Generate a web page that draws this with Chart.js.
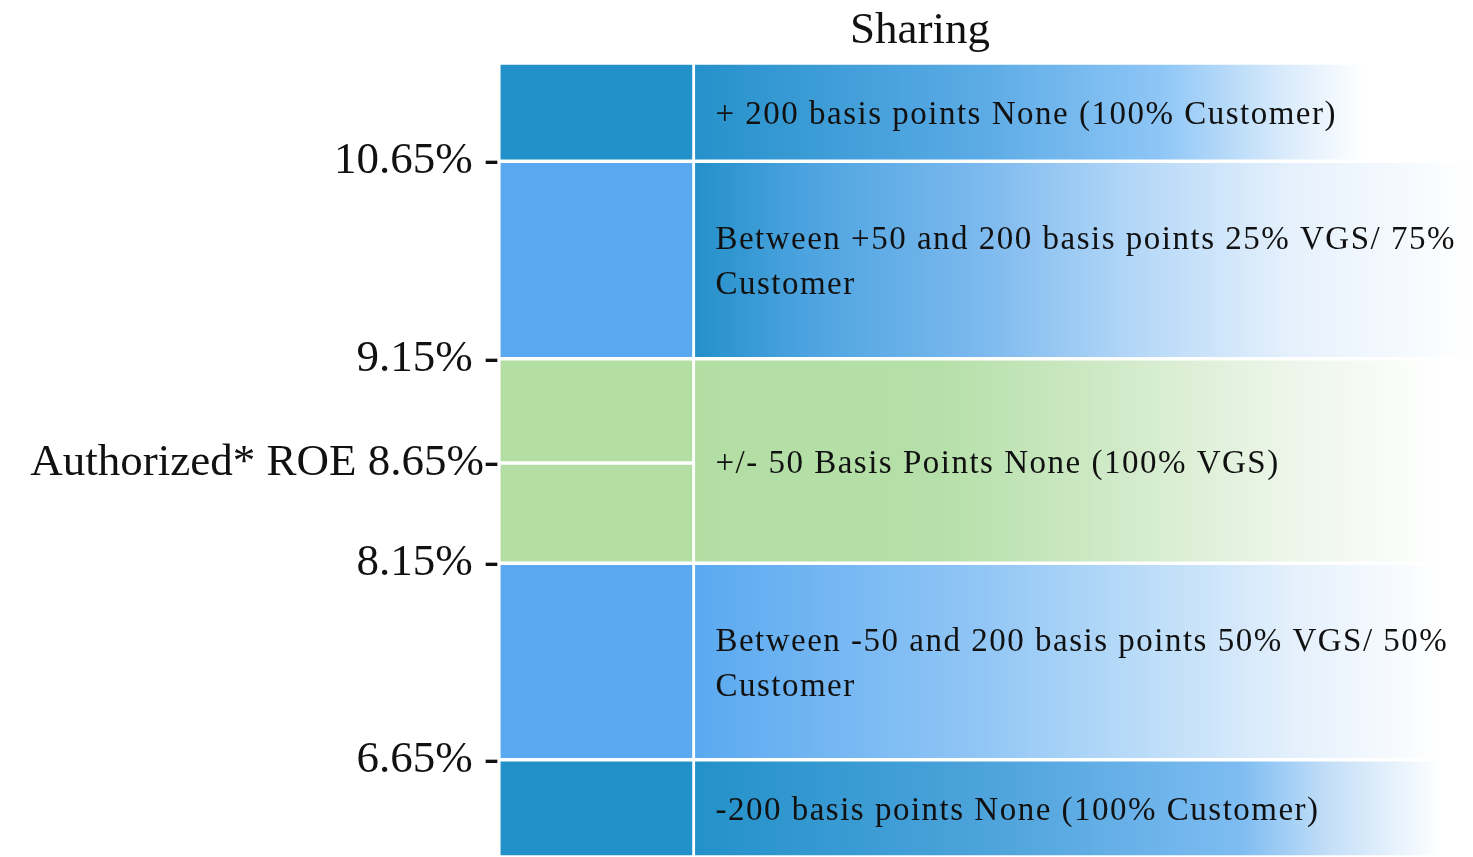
<!DOCTYPE html>
<html>
<head>
<meta charset="utf-8">
<script src="https://cdn.jsdelivr.net/npm/chart.js@4/dist/chart.umd.min.js"></script>
<style>
  html, body { margin: 0; padding: 0; background: #fff; }
  #wrap { width: 1473px; height: 857px; position: relative; }
</style>
</head>
<body>
<div id="wrap"><canvas id="myChart"></canvas></div>
<script>
// band edges on the drawing's step scale (not linear in ROE)
var tickLevels = [0.98, 2.96, 3.97, 5.02, 7.01];
var tickLabels = ['6.65% -', '8.15% -', 'Authorized* ROE 8.65%-', '9.15% -', '10.65% -'];

// left column cells, bottom to top
var leftBands = [[0, 0.98], [0.98, 2.96], [2.96, 3.97], [3.97, 5.02], [5.02, 7.01], [7.01, 8]];
var leftColors = ['#2291C9', '#5AA9F0', '#B3DFA5', '#B3DFA5', '#5AA9F0', '#2291C9'];

// sharing column, bottom to top
var rightBands = [[0, 0.98], [0.98, 2.96], [2.96, 5.02], [5.02, 7.01], [7.01, 8]];
var rightText = [
  ['-200 basis points None (100% Customer)'],
  ['Between -50 and 200 basis points 50% VGS/ 50%', 'Customer'],
  ['+/- 50 Basis Points None (100% VGS)'],
  ['Between +50 and 200 basis points 25% VGS/ 75%', 'Customer'],
  ['+ 200 basis points None (100% Customer)']
];
var rightStops = [
  [[0, '#2391c9'], [0.39, '#4fa4dc'], [0.70, '#7dbcf2'], [0.82, '#c6e0f8'], [0.96, '#ffffff']],
  [[0, '#5aa9f0'], [0.37, '#91c6f5'], [0.57, '#b9dbf8'], [0.77, '#e4f0fc'], [0.96, '#ffffff']],
  [[0, '#b2dea4'], [0.31, '#b5dfa8'], [0.54, '#d0eac8'], [0.77, '#edf6ea'], [0.96, '#ffffff']],
  [[0, '#2490c9'], [0.15, '#4ea4e0'], [0.37, '#7cb9ee'], [0.57, '#b5d8f8'], [0.77, '#e6f1fc'], [1, '#ffffff']],
  [[0, '#2591ca'], [0.36, '#5aaae5'], [0.60, '#8ec6f6'], [0.75, '#d6e9fb'], [0.86, '#ffffff']]
];
var title = 'Sharing';

var serif = "'Liberation Serif', 'DejaVu Serif', serif";

function rightFill(context) {
  var chart = context.chart;
  var area = chart.chartArea;
  if (!area) return '#5AA9F0';
  var x0 = chart.scales.x.getPixelForValue(1);
  var g = chart.ctx.createLinearGradient(x0, 0, area.right, 0);
  rightStops[context.dataIndex].forEach(function(s) { g.addColorStop(s[0], s[1]); });
  return g;
}

var labelPlugin = {
  id: 'bandText',
  afterDatasetsDraw: function(chart) {
    var ctx = chart.ctx;
    var meta = chart.getDatasetMeta(1);
    ctx.save();
    ctx.fillStyle = '#111';
    ctx.font = '33px ' + serif;
    ctx.letterSpacing = '1.5px';
    ctx.textBaseline = 'middle';
    ctx.textAlign = 'left';
    meta.data.forEach(function(bar, i) {
      var lines = rightText[i];
      var lh = 45;
      var mid = (bar.y + bar.base) / 2 + 3;
      var left = bar.x - bar.width / 2 + 22;
      lines.forEach(function(t, j) {
        ctx.fillText(t, left, mid + (j - (lines.length - 1) / 2) * lh);
      });
    });
    ctx.letterSpacing = '0px';
    ctx.font = '45px ' + serif;
    ctx.textAlign = 'center';
    ctx.fillText(title, 920, 31);
    ctx.restore();
  }
};

var ctx = document.getElementById('myChart');
var myChart = new Chart(ctx, {
  type: 'bar',
  data: {
    datasets: [
      {
        label: 'ROE',
        data: leftBands.map(function(b) { return {x: 0.5, y: b}; }),
        backgroundColor: leftColors,
        borderColor: '#ffffff',
        borderWidth: 2,
        borderSkipped: false,
        barThickness: 195,
        grouped: false
      },
      {
        label: 'Sharing',
        data: rightBands.map(function(b) { return {x: 3, y: b}; }),
        backgroundColor: rightFill,
        borderColor: '#ffffff',
        borderWidth: 2,
        borderSkipped: false,
        barThickness: 780,
        grouped: false
      }
    ]
  },
  options: {
    responsive: true,
    maintainAspectRatio: false,
    animation: false,
    layout: { padding: { top: 63, left: 0, right: 0, bottom: 0 } },
    plugins: {
      legend: { display: false },
      tooltip: { enabled: false },
      title: { display: false }
    },
    scales: {
      x: {
        type: 'linear',
        min: 0,
        max: 5,
        offset: false,
        display: false
      },
      y: {
        type: 'linear',
        min: 0,
        max: 8,
        afterFit: function(scale) {
          scale.width = 499;
          scale.paddingTop = 0;
          scale.paddingBottom = 0;
        },
        afterBuildTicks: function(scale) {
          scale.ticks = tickLevels.map(function(v) { return {value: v}; });
        },
        grid: { display: false, drawTicks: false },
        border: { display: false },
        ticks: {
          padding: 0,
          color: '#111',
          font: { family: serif, size: 45 },
          callback: function(value) {
            var i = tickLevels.indexOf(value);
            return i >= 0 ? tickLabels[i] : '';
          }
        }
      }
    }
  },
  plugins: [labelPlugin]
});
</script>
</body>
</html>
